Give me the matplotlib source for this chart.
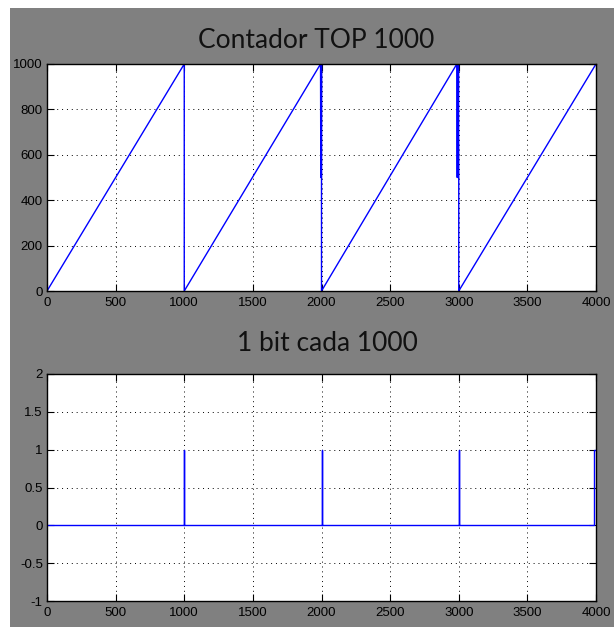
import matplotlib
matplotlib.use("Agg")
import matplotlib.pyplot as plt
from matplotlib.patches import Rectangle

# Counter output: ramps 0 -> 1000 each period, with jitter near the reset points
counter_t = [0, 1000, 1000, 1993, 1995, 1997, 1999, 2000, 2000,
             2986, 2989, 2992, 2995, 2998, 3000, 3000, 4000]
counter_v = [0, 1000, 0, 1000, 500, 1000, 500, 1000, 0,
             1000, 500, 1000, 500, 1000, 500, 0, 1000]

# One bit pulse each time the counter reaches TOP
bit_t = [0, 1000, 1000, 1000, 2000, 2000, 2000, 3000, 3000, 3000,
         3984, 3984, 4000]
bit_v = [0, 0, 1, 0, 0, 1, 0, 0, 1, 0, 0, 1, 1]

titles = ["Contador TOP 1000", "1 bit cada 1000"]
x_ticks = [0, 500, 1000, 1500, 2000, 2500, 3000, 3500, 4000]
y_ticks_top = [0, 200, 400, 600, 800, 1000]
y_ticks_bottom = [-1, -0.5, 0, 0.5, 1, 1.5, 2]
y_labels_bottom = ["-1", "-0.5", "0", "0.5", "1", "1.5", "2"]

W, H = 614, 627
fig = plt.figure(figsize=(W / 100, H / 100), dpi=100, facecolor="white")

# Grey figure panel behind the axes
fig.patches.append(Rectangle((10 / W, 0), 1 - 10 / W, 1 - 8 / H,
                             transform=fig.transFigure, facecolor="#808080",
                             edgecolor="none", zorder=-10))

tick_font = dict(family=["Liberation Sans", "DejaVu Sans"], size=9.5)
title_font = dict(family=["Lato", "DejaVu Sans"], size=19)


def style_axes(ax):
    ax.set_facecolor("white")
    ax.set_xlim(0, 4000)
    ax.set_xticks(x_ticks)
    ax.set_xticklabels([str(t) for t in x_ticks], **tick_font)
    ax.tick_params(direction="in", length=5, width=0.8, color="black",
                   top=True, right=True, labeltop=False, labelright=False)
    ax.tick_params(axis="x", pad=4)
    ax.tick_params(axis="y", pad=3)
    ax.grid(True, color="black", linestyle=(0, (1, 4)), linewidth=0.7)
    for s in ax.spines.values():
        s.set_color("black")
        s.set_linewidth(1.0)


ax1 = fig.add_axes([47 / W, 1 - 291 / H, 549 / W, 227 / H])
ax1.plot(counter_t, counter_v, color="#0000ff", linewidth=1.0)
ax1.set_ylim(0, 1000)
ax1.set_yticks(y_ticks_top)
ax1.set_yticklabels([str(t) for t in y_ticks_top], **tick_font)
style_axes(ax1)

ax2 = fig.add_axes([47 / W, 1 - 601 / H, 549 / W, 227 / H])
ax2.plot(bit_t, bit_v, color="#0000ff", linewidth=1.0)
ax2.set_ylim(-1, 2)
ax2.set_yticks(y_ticks_bottom)
ax2.set_yticklabels(y_labels_bottom, **tick_font)
style_axes(ax2)

fig.text(316 / W, 1 - 48 / H, titles[0], ha="center", va="baseline",
         color="#111111", **title_font)
fig.text(327 / W, 1 - 351 / H, titles[1], ha="center", va="baseline",
         color="#111111", **title_font)

fig.savefig("out.png", dpi=100, facecolor="white")
